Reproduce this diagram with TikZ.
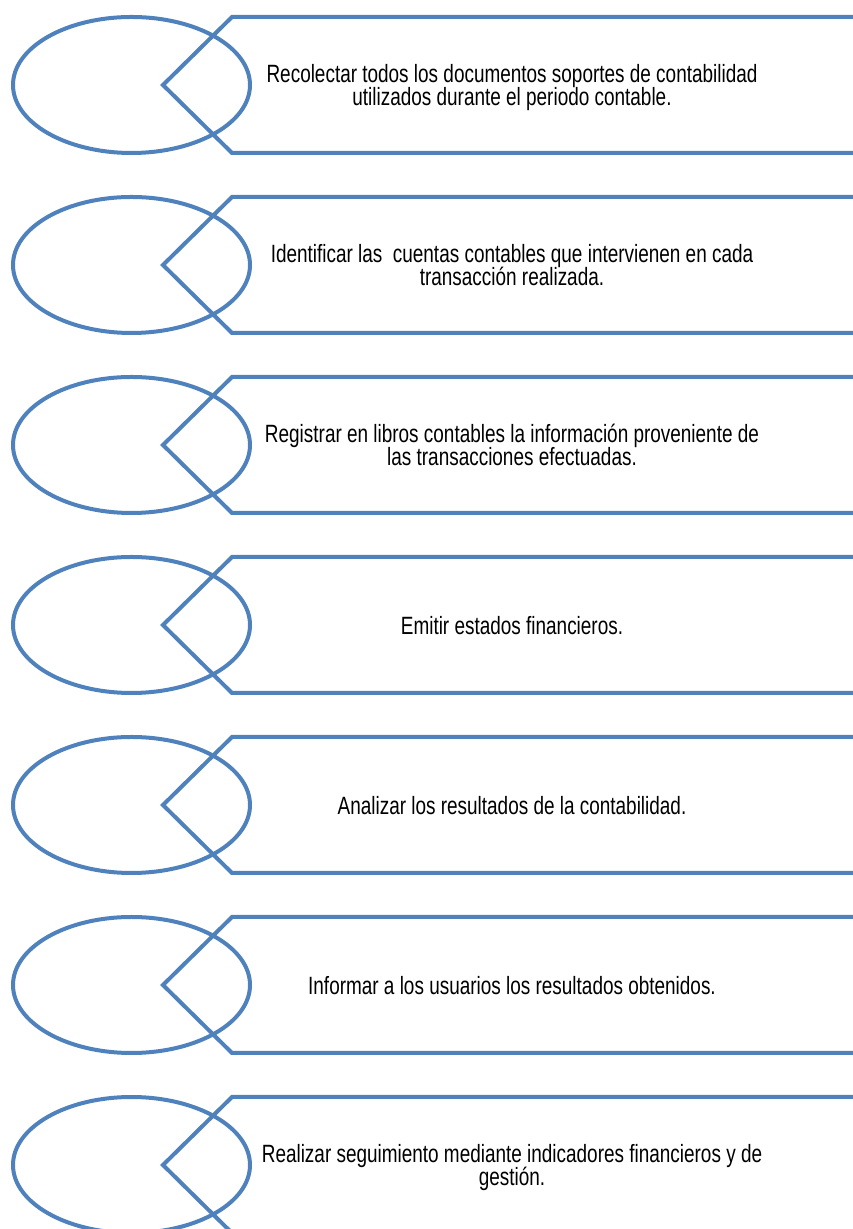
\documentclass[tikz,border=0pt]{standalone}
\usepackage{fontspec}
\newfontfamily\letra{Liberation Sans}[FakeStretch=0.758]
\definecolor{azul}{HTML}{4F81BD}
\setlength{\lineskiplimit}{-20pt}
\usetikzlibrary{positioning, shapes.geometric}

\begin{document}
\begin{tikzpicture}[
		x=1pt, y=1pt,
		font=\letra\fontsize{25}{22.8}\selectfont,
		ovalo/.style={draw=azul, line width=4pt, ellipse, minimum width=237pt, minimum height=136pt, inner sep=0pt, outer sep=0pt},
		texto/.style={align=center, inner sep=0pt, text depth=0pt},
		marco/.style={draw=azul, line width=4pt},
		node distance=44pt
	]

	\useasboundingbox (0,0) rectangle (853,1229);
	\clip (0,0) rectangle (853,1229);

	% Columnas de referencia
	\coordinate (fin) at (870,0);
	\coordinate (esq) at (232,0);
	\coordinate (punta) at (163,0);
	\coordinate (col) at (512,0);

	% Ovalos
	\node[ovalo] (c1) at (131.5,1144) {};
	\node[ovalo] (c2) [below=of c1] {};
	\node[ovalo] (c3) [below=of c2] {};
	\node[ovalo] (c4) [below=of c3] {};
	\node[ovalo] (c5) [below=of c4] {};
	\node[ovalo] (c6) [below=of c5] {};
	\node[ovalo] (c7) [below=of c6] {};

	% Marcos en punta
	\foreach \i in {1,...,7} {
			\draw[marco] (fin |- c\i.north) -- (esq |- c\i.north) -- (punta |- c\i) -- (esq |- c\i.south) -- (fin |- c\i.south);
		}

	% Pasos
	\node[texto] (t1) at (col |- c1) {Recolectar todos los documentos soportes de contabilidad\\utilizados durante el periodo contable.};
	\node[texto] (t2) at (col |- c2) {Identificar las~ cuentas contables que intervienen en cada\\transacción realizada.};
	\node[texto] (t3) at (col |- c3) {Registrar en libros contables la información proveniente de\\las transacciones efectuadas.};
	\node[texto] (t4) at (col |- c4) {Emitir estados financieros.};
	\node[texto] (t5) at (col |- c5) {Analizar los resultados de la contabilidad.};
	\node[texto] (t6) at (col |- c6) {Informar a los usuarios los resultados obtenidos.};
	\node[texto] (t7) at (col |- c7) {Realizar seguimiento mediante indicadores financieros y de\\gestión.};

\end{tikzpicture}
\end{document}
